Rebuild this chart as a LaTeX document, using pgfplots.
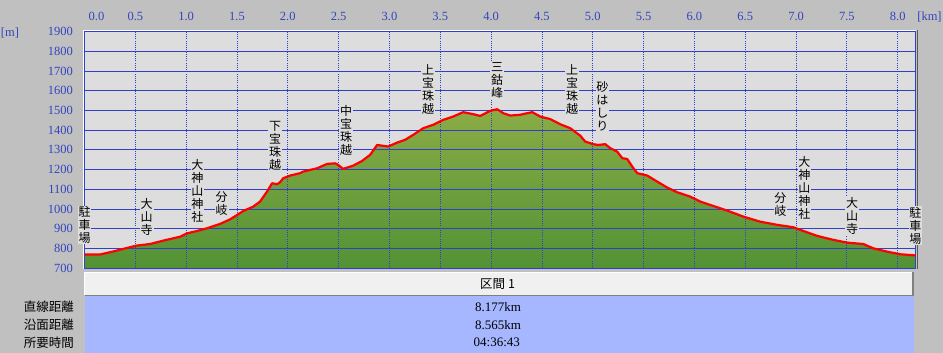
\documentclass[border=0pt]{standalone}
\usepackage{pgfplots}
\pgfplotsset{compat=1.18}
\usepackage{pgfplotstable}
\usepackage{fontspec}
\setmainfont{Liberation Serif}
\newfontfamily\jp{Noto Sans CJK JP}
\definecolor{outerbg}{RGB}{192,192,192}
\definecolor{plotbg}{RGB}{221,221,221}
\definecolor{gridblue}{RGB}{48,64,200}
\definecolor{tickblue}{RGB}{51,68,190}
\definecolor{fillTop}{RGB}{138,172,70}
\definecolor{fillBot}{RGB}{82,146,52}
\definecolor{tabblue}{RGB}{166,182,255}
\definecolor{headbg}{RGB}{240,240,240}
\definecolor{profred}{RGB}{255,0,0}

\pgfplotstableread{
x y
0.000 770
0.153 770
0.281 785
0.379 798
0.512 815
0.645 823
0.773 840
0.940 860
1.009 877
1.107 889
1.206 903
1.334 925
1.432 948
1.501 970
1.560 990
1.658 1012
1.727 1038
1.796 1089
1.845 1131
1.895 1126
1.924 1136
1.954 1156
2.023 1170
2.122 1182
2.151 1190
2.289 1207
2.387 1229
2.466 1232
2.495 1224
2.544 1204
2.643 1220
2.731 1244
2.810 1275
2.879 1325
2.987 1317
3.076 1337
3.154 1351
3.233 1376
3.332 1410
3.430 1427
3.528 1452
3.627 1469
3.725 1491
3.824 1481
3.893 1472
3.991 1498
4.060 1506
4.119 1486
4.188 1474
4.287 1478
4.355 1486
4.405 1491
4.483 1469
4.582 1456
4.680 1430
4.778 1410
4.877 1372
4.926 1342
5.005 1329
5.054 1325
5.123 1329
5.172 1309
5.241 1291
5.290 1258
5.339 1254
5.389 1215
5.438 1182
5.536 1170
5.635 1139
5.733 1109
5.832 1085
5.960 1063
6.058 1038
6.186 1016
6.324 992
6.481 962
6.649 936
6.816 920
6.973 908
7.072 889
7.209 864
7.367 844
7.505 830
7.662 823
7.761 801
7.899 784
8.026 771
8.154 766
8.177 765
}\profile

\newcommand{\lbl}{\jp\fontsize{12}{13}\selectfont}

\begin{document}
\begin{tikzpicture}[x=1pt,y=1pt]
\fill[outerbg] (0,0) rectangle (943,353);
% 3D frame around plot area
\draw[white, line width=1pt] (83,268.3-268.3+84.2) -- (83,322.8) -- (916,322.8);
\draw[gray!70!black, line width=1pt] (917,322.8) -- (917,84.2);
\begin{axis}[
  at={(84.5pt,84.7pt)}, anchor=south west,
  scale only axis, width=831.2pt, height=236.8pt,
  xmin=0, xmax=8.177, ymin=700, ymax=1900,
  xtick={0,0.5,1,1.5,2,2.5,3,3.5,4,4.5,5,5.5,6,6.5,7,7.5,8},
  xticklabels={\hspace*{24pt}0.0,0.5,1.0,1.5,2.0,2.5,3.0,3.5,4.0,4.5,5.0,5.5,6.0,6.5,7.0,7.5,8.0},
  ytick={700,800,900,1000,1100,1200,1300,1400,1500,1600,1700,1800,1900},
  yticklabels={700,800,900,1000,1100,1200,1300,1400,1500,1600,1700,1800,1900},
  xticklabel pos=upper,
  major tick length=0pt,
  xticklabel style={anchor=south, inner sep=0pt, yshift=10.5pt, text=tickblue, font=\fontsize{12.5}{14}\selectfont},
  yticklabel style={anchor=east, inner sep=0pt, xshift=-11.5pt, text=tickblue, font=\fontsize{12.5}{14}\selectfont},
  xmajorgrids, ymajorgrids,
  x grid style={gridblue, line width=0.8pt, dash pattern=on 1pt off 1.2pt},
  y grid style={gridblue, line width=0.9pt},
  axis line style={gridblue, line width=1.2pt},
  axis background/.style={fill=plotbg},
  axis on top,
]
\addplot[draw=none, top color=fillTop, bottom color=fillBot] table[x=x,y=y]{\profile} -- (axis cs:8.177,700) -- (axis cs:0,700) -- cycle;
\end{axis}
\begin{axis}[
  at={(84.5pt,84.7pt)}, anchor=south west,
  scale only axis, width=831.2pt, height=236.8pt,
  xmin=0, xmax=8.177, ymin=700, ymax=1900,
  hide axis, clip=false,
]
\addplot[profred, line width=2.2pt, line join=round] table[x=x,y=y]{\profile};
\tikzset{lb/.style={fill=plotbg, inner sep=0.8pt, align=center, font=\lbl}}
\node[lb] at (axis cs:0.0,920) {駐\\車\\場};
\node[lb] at (axis cs:0.612,962) {大\\山\\寺};
\node[lb] at (axis cs:1.110,1094) {大\\神\\山\\神\\社};
\node[lb] at (axis cs:1.350,1030) {分\\岐};
\node[lb] at (axis cs:1.875,1318) {下\\宝\\珠\\越};
\node[lb] at (axis cs:2.574,1401) {中\\宝\\珠\\越};
\node[lb] at (axis cs:3.381,1607) {上\\宝\\珠\\越};
\node[lb] at (axis cs:4.060,1652) {三\\鈷\\峰};
\node[lb] at (axis cs:4.798,1607) {上\\宝\\珠\\越};
\node[lb] at (axis cs:5.094,1521) {砂\\は\\し\\り};
\node[lb] at (axis cs:6.845,1021) {分\\岐};
\node[lb] at (axis cs:7.082,1105) {大\\神\\山\\神\\社};
\node[lb] at (axis cs:7.551,963) {大\\山\\寺};
\node[lb] at (axis cs:8.174,917) {駐\\車\\場};
\end{axis}
% axis unit labels
\node[font=\fontsize{12.5}{14}\selectfont, text=tickblue, inner sep=0pt] at (10,319.7) {[m]};
\node[font=\fontsize{12.5}{14}\selectfont, text=tickblue, inner sep=0pt] at (929.5,336.3) {[km]};
% table
\fill[tabblue] (84.5,0) rectangle (914,57.3);
\fill[headbg] (84.5,57.3) rectangle (913,80.7);
\draw[white, line width=1pt] (84.5,57.8) -- (84.5,80.2) -- (913,80.2);
\draw[gray, line width=1.2pt] (84.5,57.3) -- (913,57.3) -- (913,80.7);
\node[anchor=west, inner sep=0pt, font=\jp\fontsize{12.5}{14}\selectfont] at (480,68.7) {区間 1};
\node[anchor=east, inner sep=0pt, font=\jp\fontsize{12.5}{14}\selectfont] at (74,46.3) {直線距離};
\node[anchor=east, inner sep=0pt, font=\jp\fontsize{12.5}{14}\selectfont] at (74,28) {沿面距離};
\node[anchor=east, inner sep=0pt, font=\jp\fontsize{12.5}{14}\selectfont] at (74,10.7) {所要時間};
\node[anchor=west, inner sep=0pt, font=\fontsize{13}{15}\selectfont] at (475,46.3) {8.177km};
\node[anchor=west, inner sep=0pt, font=\fontsize{13}{15}\selectfont] at (475,28) {8.565km};
\node[anchor=west, inner sep=0pt, font=\fontsize{13}{15}\selectfont] at (473.5,10.7) {04:36:43};
\end{tikzpicture}
\end{document}
